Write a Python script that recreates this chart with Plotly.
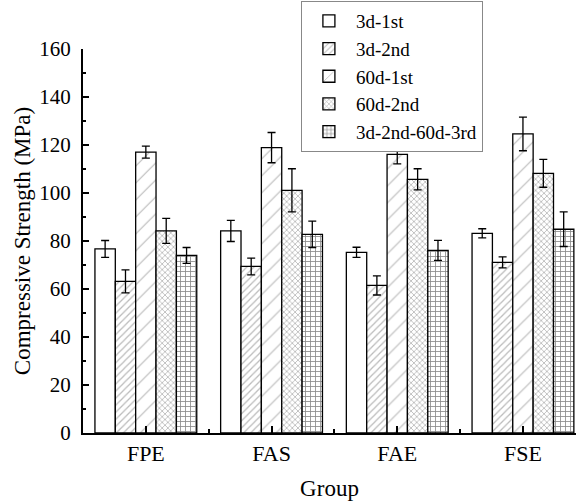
import plotly.graph_objects as go

groups = ["FPE", "FAS", "FAE", "FSE"]
series = ["3d-1st", "3d-2nd", "60d-1st", "60d-2nd", "3d-2nd-60d-3rd"]
values = {
    "3d-1st": [76.7, 84.2, 75.3, 83.2],
    "3d-2nd": [63.2, 69.4, 61.5, 71.1],
    "60d-1st": [117.0, 118.9, 116.1, 124.6],
    "60d-2nd": [84.2, 101.1, 105.7, 108.2],
    "3d-2nd-60d-3rd": [74.0, 82.8, 76.1, 84.9],
}
errors = {
    "3d-1st": [3.5, 4.4, 2.1, 1.9],
    "3d-2nd": [4.8, 3.5, 4.0, 2.3],
    "60d-1st": [2.5, 6.3, 4.0, 7.0],
    "60d-2nd": [5.2, 9.0, 4.4, 5.8],
    "3d-2nd-60d-3rd": [3.3, 5.5, 4.2, 7.2],
}
patterns = {
    "3d-1st": dict(shape="", fillmode="overlay"),
    "3d-2nd": dict(shape="/", size=5, solidity=0.25, fgcolor="#777777", bgcolor="white", fillmode="overlay"),
    "60d-1st": dict(shape="/", size=12, solidity=0.1, fgcolor="#777777", bgcolor="white", fillmode="overlay"),
    "60d-2nd": dict(shape="x", size=4, solidity=0.35, fgcolor="#666666", bgcolor="white", fillmode="overlay"),
    "3d-2nd-60d-3rd": dict(shape="+", size=5, solidity=0.3, fgcolor="#111111", bgcolor="white", fillmode="overlay"),
}

xpos = list(range(len(groups)))
font = "Liberation Serif, serif"

fig = go.Figure()
for s in series:
    fig.add_trace(go.Bar(
        name=s, x=xpos, y=values[s],
        marker=dict(color="white", line=dict(color="black", width=1.3), pattern=patterns[s]),
        error_y=dict(type="data", array=errors[s], visible=True, color="black", thickness=1.3, width=4),
    ))

fig.update_layout(
    width=576, height=502,
    margin=dict(l=83, r=0, t=49, b=69),
    paper_bgcolor="white", plot_bgcolor="white",
    barmode="group", bargap=0.19, bargroupgap=0,
    font=dict(family=font, size=21, color="black"),
    showlegend=True,
    legend=dict(x=0.442, y=1.125, xanchor="left", yanchor="top",
                bordercolor="#888888", borderwidth=1, bgcolor="white",
                font=dict(family=font, size=19, color="black"),
                tracegroupgap=0, itemwidth=44),
    xaxis=dict(
        range=[-0.5, 3.422], tickmode="array", tickvals=xpos, ticktext=groups,
        tickfont=dict(family=font, size=22, color="black"),
        showline=True, linecolor="black", linewidth=2,
        ticks="inside", ticklen=7, tickwidth=2, tickcolor="black",
        minor=dict(tickmode="array", tickvals=[0.5, 1.5, 2.5], ticks="inside", ticklen=4, tickwidth=2, tickcolor="black"),
        showgrid=False, zeroline=False,
        title=dict(text="Group", font=dict(family=font, size=23, color="black"), standoff=14),
    ),
    yaxis=dict(
        range=[0, 160], dtick=20, tick0=0,
        tickfont=dict(family=font, size=21, color="black"),
        ticklabelstandoff=6,
        showline=True, linecolor="black", linewidth=2,
        ticks="inside", ticklen=6, tickwidth=1.5, tickcolor="black",
        minor=dict(dtick=10, ticks="inside", ticklen=3, tickwidth=1.5, tickcolor="black"),
        showgrid=False, zeroline=False,
        title=dict(text="Compressive Strength (MPa)", font=dict(family=font, size=23, color="black"), standoff=2),
    ),
)

fig.write_html("out.html")
